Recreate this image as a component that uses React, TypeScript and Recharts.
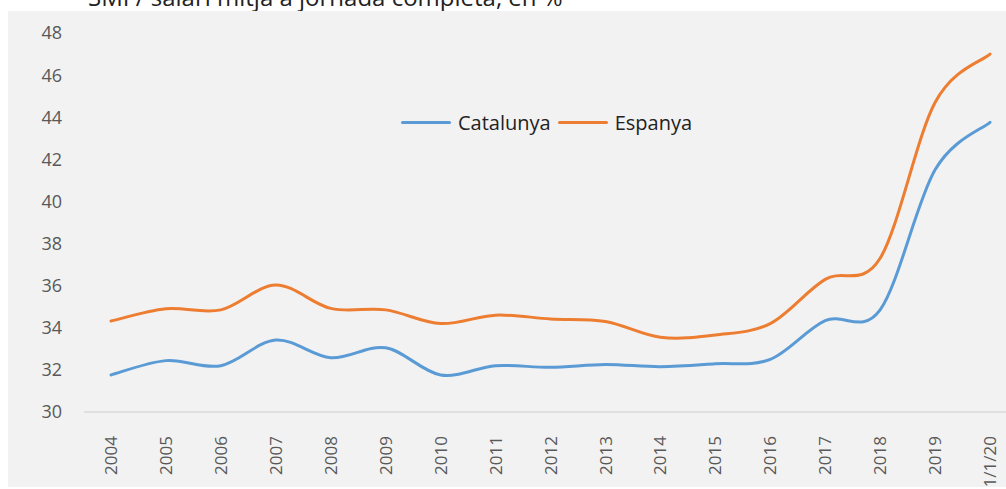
import React from 'react';
import { LineChart, Line, XAxis, YAxis } from 'recharts';

const years = ['2004', '2005', '2006', '2007', '2008', '2009', '2010', '2011', '2012', '2013', '2014', '2015', '2016', '2017', '2018', '2019', '1/1/20'];
const catalunya = [31.76, 32.44, 32.2, 33.42, 32.58, 33.05, 31.76, 32.2, 32.12, 32.26, 32.15, 32.29, 32.5, 34.34, 34.85, 41.5, 43.76];
const espanya = [34.32, 34.9, 34.85, 36.03, 34.92, 34.85, 34.2, 34.6, 34.42, 34.3, 33.55, 33.66, 34.2, 36.3, 37.3, 44.7, 47.0];
const yTicks = [30, 32, 34, 36, 38, 40, 42, 44, 46, 48];

const series = [
  { key: 'catalunya', name: 'Catalunya', color: '#5B9BD5' },
  { key: 'espanya', name: 'Espanya', color: '#ED7D31' },
];

const data = years.map((year, i) => ({ year, catalunya: catalunya[i], espanya: espanya[i] }));

// Excel-style smoothing: cardinal spline with tension 0 (Catmull-Rom like)
const excelSmooth: any = (context: any) => {
  let pts: number[][] = [];
  return {
    areaStart() {},
    areaEnd() {},
    lineStart() {
      pts = [];
    },
    lineEnd() {
      const n = pts.length;
      if (!n) return;
      context.moveTo(pts[0][0], pts[0][1]);
      for (let i = 0; i < n - 1; i++) {
        const p0 = pts[i - 1] || pts[i];
        const p1 = pts[i];
        const p2 = pts[i + 1];
        const p3 = pts[i + 2] || pts[i + 1];
        context.bezierCurveTo(
          p1[0] + (p2[0] - p0[0]) / 6,
          p1[1] + (p2[1] - p0[1]) / 6,
          p2[0] - (p3[0] - p1[0]) / 6,
          p2[1] - (p3[1] - p1[1]) / 6,
          p2[0],
          p2[1]
        );
      }
    },
    point(x: number, y: number) {
      pts.push([+x, +y]);
    },
  };
};

const font = '"Open Sans", sans-serif';

const YearTick = (props: any) => {
  const { x, y, payload } = props;
  return (
    <text
      x={x}
      y={y + 16}
      dy="0.36em"
      transform={`rotate(-90, ${x}, ${y + 16})`}
      textAnchor="end"
      fill="#595959"
      fontSize={17}
      fontFamily={font}
    >
      {payload.value}
    </text>
  );
};

const App = () => {
  return (
    <div style={{ position: 'fixed', top: 0, left: 0, width: 1006, height: 489, background: '#fff', overflow: 'hidden' }}>
      {/* titol retallat a dalt, com a la imatge original */}
      <div style={{ position: 'absolute', top: -15, left: 88, fontSize: 24, lineHeight: '24px', fontFamily: font, color: '#222', whiteSpace: 'nowrap' }}>
        SMI / salari mitjà a jornada completa, en %
      </div>
      <div style={{ position: 'absolute', top: 11, left: 8, width: 998, height: 476, background: '#f2f2f2', overflow: 'hidden' }}>
        <LineChart width={998} height={476} data={data} margin={{ top: 22, right: 0, left: 0, bottom: 0 }}>
          <XAxis
            dataKey="year"
            height={75}
            padding={{ left: 27, right: 16 }}
            axisLine={{ stroke: '#d9d9d9', strokeWidth: 1.5 }}
            tickLine={false}
            interval={0}
            tick={<YearTick />}
          />
          <YAxis
            width={76}
            domain={[30, 48]}
            ticks={yTicks}
            axisLine={false}
            tickLine={false}
            tickSize={0}
            tickMargin={22}
            tick={{ fill: '#595959', fontSize: 18, fontFamily: font }}
          />
          {series.map((s) => (
            <Line
              key={s.key}
              dataKey={s.key}
              name={s.name}
              type={excelSmooth}
              stroke={s.color}
              strokeWidth={3}
              strokeLinecap="round"
              dot={false}
              activeDot={false}
              isAnimationActive={false}
            />
          ))}
        </LineChart>
        {/* llegenda */}
        <div style={{ position: 'absolute', left: 393, top: 98, display: 'flex', alignItems: 'center', fontFamily: font, fontSize: 20, color: '#222' }}>
          {series.map((s) => (
            <div key={s.key} style={{ display: 'flex', alignItems: 'center', marginRight: 7 }}>
              <div style={{ width: 50, height: 3, borderRadius: 2, background: s.color, marginRight: 7 }} />
              <span>{s.name}</span>
            </div>
          ))}
        </div>
      </div>
    </div>
  );
};

export default App;
